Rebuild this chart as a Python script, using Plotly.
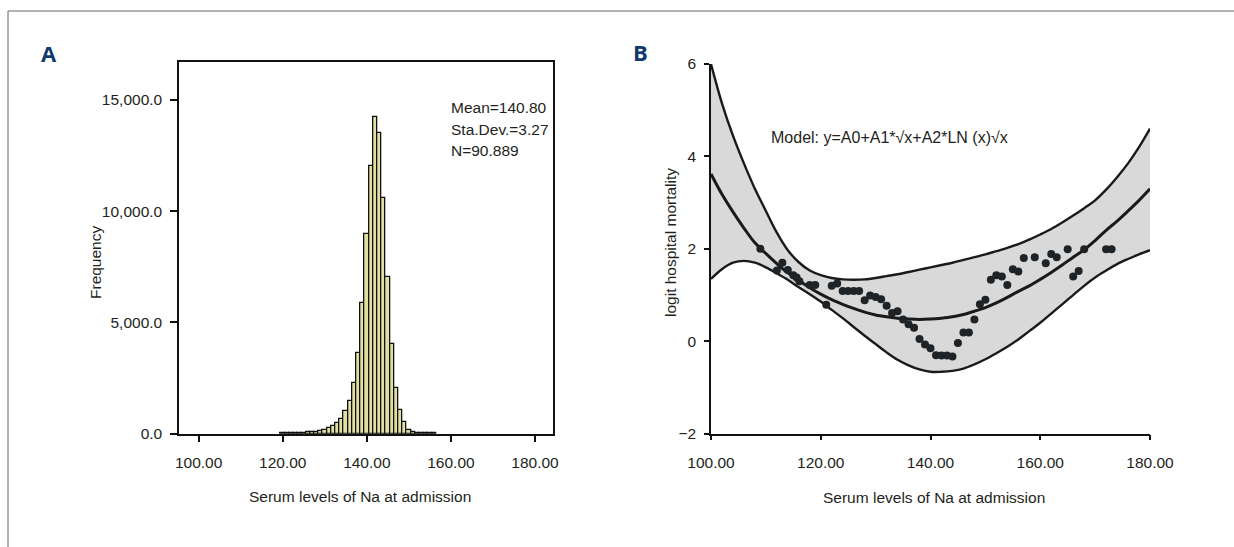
import plotly.graph_objects as go

# ---------------- data ----------------
# Panel A: histogram of serum Na (bin width 1, centres)
hist_centers = list(range(120, 157))
hist_counts = [15, 20, 25, 30, 40, 50, 60, 70, 85, 120, 166, 243, 340, 470,
               650, 1020, 1483, 2265, 3640, 5880, 8970, 12040, 14230, 13500, 10580, 7035,
               4020, 2045, 1080, 530, 180, 60, 40, 30, 25, 20, 15]
a_xticks = [100, 120, 140, 160, 180]
a_xticktext = ["100.00", "120.00", "140.00", "160.00", "180.00"]
a_yticks = [0, 5000, 10000, 15000]
a_yticktext = ["0.0", "5,000.0", "10,000.0", "15,000.0"]
stats_text = ["Mean=140.80", "Sta.Dev.=3.27", "N=90.889"]

# Panel B: fitted curve and confidence band
curve_x = [100, 102, 104, 106, 108, 110, 112, 114, 116, 118, 120, 122, 124, 126, 128, 130,
           132, 134, 136, 138, 140, 142, 144, 146, 148, 150, 152, 154, 156, 158, 160, 162,
           164, 166, 168, 170, 172, 174, 176, 178, 180]
curve_upper = [6.0, 5.15, 4.45, 3.85, 3.3, 2.82, 2.35, 1.97, 1.71, 1.53, 1.43, 1.37, 1.34, 1.33,
               1.34, 1.37, 1.41, 1.45, 1.50, 1.55, 1.60, 1.65, 1.70, 1.76, 1.82, 1.88, 1.95,
               2.02, 2.1, 2.2, 2.31, 2.43, 2.57, 2.72, 2.88, 3.05, 3.28, 3.55, 3.85, 4.2, 4.6]
curve_fit = [3.62, 3.18, 2.8, 2.45, 2.13, 1.9, 1.68, 1.48, 1.32, 1.16, 1.02, 0.9, 0.8, 0.71,
             0.63, 0.57, 0.53, 0.5, 0.48, 0.47, 0.48, 0.5, 0.53, 0.58, 0.65, 0.73, 0.83, 0.95,
             1.08, 1.2, 1.34, 1.49, 1.65, 1.82, 1.98, 2.18, 2.4, 2.6, 2.82, 3.05, 3.3]
curve_lower = [1.35, 1.56, 1.7, 1.74, 1.7, 1.6, 1.47, 1.33, 1.17, 1.02, 0.86, 0.68, 0.5, 0.31,
               0.12, -0.06, -0.24, -0.4, -0.52, -0.61, -0.66, -0.66, -0.64, -0.59, -0.5, -0.39,
               -0.26, -0.12, 0.04, 0.22, 0.4, 0.6, 0.8, 1.0, 1.2, 1.38, 1.53, 1.67, 1.78, 1.88, 1.97]

obs_x = [109, 112, 113, 114, 115, 115.6, 116.1, 118, 119, 121, 122, 123, 124, 125, 126, 127,
         128, 129, 130, 131, 132, 133, 134, 135, 136, 137, 138, 139, 140, 141, 142, 143, 144,
         145, 146, 147, 148, 149, 150, 151, 152, 153, 154, 155, 156, 157, 159, 161, 162, 163,
         165, 166, 167, 168, 172, 173]
obs_y = [2.0, 1.53, 1.7, 1.54, 1.43, 1.38, 1.3, 1.22, 1.22, 0.79, 1.2, 1.25, 1.09, 1.09, 1.09,
         1.09, 0.89, 0.99, 0.96, 0.91, 0.77, 0.61, 0.65, 0.47, 0.37, 0.29, 0.05, -0.07, -0.15,
         -0.3, -0.31, -0.31, -0.33, -0.04, 0.19, 0.19, 0.47, 0.8, 0.9, 1.33, 1.43, 1.4, 1.22,
         1.56, 1.51, 1.8, 1.82, 1.69, 1.89, 1.82, 1.99, 1.4, 1.52, 1.99, 1.99, 1.99]
b_xticks = [100, 120, 140, 160, 180]
b_xticktext = ["100.00", "120.00", "140.00", "160.00", "180.00"]
b_yticks = [-2, 0, 2, 4, 6]
b_yticktext = ["\u22122", "0", "2", "4", "6"]
model_text = "Model: y=A0+A1*\u221ax+A2*LN (x)\u221ax"
x_title = "Serum levels of Na at admission"

# ---------------- styling ----------------
W, H = 1234, 547
FONT = "Liberation Sans, Arial, sans-serif"
FS = 15.5
TXT = "#231f20"
NAVY = "#12396b"


def px(X):
    return X / W


def py(Y):
    return 1 - Y / H


fig = go.Figure()

# Panel A bars
fig.add_trace(go.Bar(x=hist_centers, y=hist_counts, width=1,
                     marker=dict(color="#e0e0a2", line=dict(color="#111111", width=1.3)),
                     xaxis="x", yaxis="y", showlegend=False, hoverinfo="x+y"))

# Panel B band (fill only)
fig.add_trace(go.Scatter(x=curve_x, y=curve_lower, mode="lines", line=dict(width=0, shape="spline"),
                         xaxis="x2", yaxis="y2", showlegend=False, hoverinfo="skip"))
fig.add_trace(go.Scatter(x=curve_x, y=curve_upper, mode="lines", line=dict(width=0, shape="spline"),
                         fill="tonexty", fillcolor="#d9d9d9",
                         xaxis="x2", yaxis="y2", showlegend=False, hoverinfo="skip"))
# Panel B lines
for ys, wd in [(curve_lower, 2.4), (curve_upper, 2.4), (curve_fit, 3.0)]:
    fig.add_trace(go.Scatter(x=curve_x, y=ys, mode="lines",
                             line=dict(color="#1a1a1a", width=wd, shape="spline"),
                             xaxis="x2", yaxis="y2", showlegend=False))
fig.add_trace(go.Scatter(x=obs_x, y=obs_y, mode="markers",
                         marker=dict(color="#1e2328", size=8),
                         xaxis="x2", yaxis="y2", showlegend=False))

tickfont = dict(family=FONT, size=FS, color=TXT)
common = dict(ticks="outside", tickwidth=1.5, tickcolor="#111", showline=True, linecolor="#111",
              showgrid=False, zeroline=False, tickfont=tickfont, automargin=False)

fig.update_layout(
    template="none",
    width=W, height=H,
    margin=dict(l=0, r=0, t=0, b=0, pad=0),
    paper_bgcolor="white", plot_bgcolor="white",
    font=dict(family=FONT, color=TXT),
    bargap=0,
    showlegend=False,
    xaxis=dict(domain=[px(179.3), px(553.3)], range=[95.4, 184.35], anchor="y",
               tickvals=a_xticks, ticktext=a_xticktext, ticklen=6, linewidth=2,
               mirror=True, ticklabelstandoff=8, **common),
    yaxis=dict(domain=[py(433.7), py(62)], range=[0, 16700], anchor="x",
               tickvals=a_yticks, ticktext=a_yticktext, ticklen=7, linewidth=2,
               mirror=True, ticklabelstandoff=5, **common),
    xaxis2=dict(domain=[px(711), px(1150)], range=[100, 180], anchor="y2",
                tickvals=b_xticks, ticktext=b_xticktext, ticklen=5, linewidth=1.5,
                ticklabelstandoff=9, **common),
    yaxis2=dict(domain=[py(433.7), py(64)], range=[-2, 6], anchor="x2",
                tickvals=b_yticks, ticktext=b_yticktext, ticklen=5, linewidth=1.5,
                ticklabelstandoff=5, **common),
)

ann = []


def add_text(text, X, Y, size=FS, xanchor="center", angle=0, family=FONT, color=TXT):
    ann.append(dict(text=text, x=px(X), y=py(Y), xref="paper", yref="paper",
                    xanchor=xanchor, yanchor="middle", textangle=angle, showarrow=False,
                    font=dict(family=family, size=size, color=color)))


# panel letters
add_text("<b>A</b>", 49, 53, size=22, family="Open Sans, Liberation Sans, sans-serif", color=NAVY)
add_text("<b>B</b>", 640, 52, size=22, family="Open Sans, Liberation Sans, sans-serif", color=NAVY)
# stats text
for t, Y in zip(stats_text, [107.5, 129.1, 150.0]):
    add_text(t, 448.8, Y, xanchor="left")
# model text
add_text(model_text, 769, 137.8, size=16, xanchor="left")
# axis titles
add_text("Frequency", 96, 263, angle=-90)
add_text("logit hospital mortality", 670, 243, angle=-90)
add_text(x_title, 360, 496)
add_text(x_title, 934, 497)
fig.update_layout(annotations=ann)

# thin outer frame (top and left edges)
fig.add_shape(type="line", xref="paper", yref="paper", x0=px(8), x1=1.0, y0=py(11), y1=py(11),
              line=dict(color="#666666", width=1))
fig.add_shape(type="line", xref="paper", yref="paper", x0=px(8), x1=px(8), y0=py(11), y1=0,
              line=dict(color="#666666", width=1))

fig.write_html("out.html", config={"displayModeBar": False},
               post_script="document.body.style.margin='0';")
